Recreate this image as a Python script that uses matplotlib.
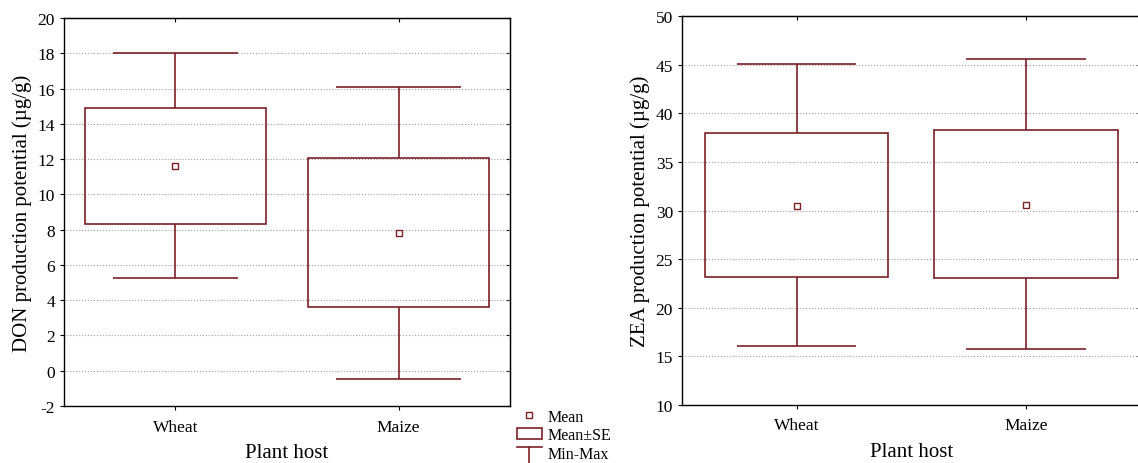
import matplotlib
matplotlib.use("Agg")
import matplotlib.pyplot as plt
import numpy as np
from matplotlib.lines import Line2D
from matplotlib.patches import Rectangle
from matplotlib.legend_handler import HandlerBase

plt.rcParams['font.family'] = ['Liberation Serif', 'DejaVu Serif']
plt.rcParams['axes.unicode_minus'] = False

hosts = ['Wheat', 'Maize']

# DON (ug/g)
don_min = [5.25, -0.45]
don_lo = [8.35, 3.6]
don_mean = [11.6, 7.8]
don_hi = [14.9, 12.05]
don_max = [18.0, 16.1]

# ZEA (ug/g)
zea_min = [16.05, 15.75]
zea_lo = [23.2, 23.1]
zea_mean = [30.5, 30.6]
zea_hi = [38.0, 38.3]
zea_max = [45.05, 45.6]

col = '#7b1f25'


class WhiskerHandler(HandlerBase):
    # T-shaped icon for the Min-Max entry
    def create_artists(self, legend, orig_handle, xd, yd, width, height, fontsize, trans):
        cx = xd + width / 2
        top = yd + height * 0.9
        cap = Line2D([xd, xd + width], [top, top], color=col, lw=1.2, transform=trans)
        stem = Line2D([cx, cx], [top, yd - height * 0.8], color=col, lw=1.2, transform=trans)
        return [cap, stem]


def draw_panel(ax, mn, lo, mean, hi, mx, ylim, yticks, ylabel, box_w, cap_w):
    x = np.arange(len(hosts))
    lo = np.array(lo); hi = np.array(hi)
    ax.bar(x, hi - lo, bottom=lo, width=box_w, fill=False, edgecolor=col, linewidth=1.2, zorder=3)
    ax.vlines(x, mn, lo, color=col, lw=1.2, zorder=3)
    ax.vlines(x, hi, mx, color=col, lw=1.2, zorder=3)
    ax.hlines(mn, x - cap_w / 2, x + cap_w / 2, color=col, lw=1.2, zorder=3)
    ax.hlines(mx, x - cap_w / 2, x + cap_w / 2, color=col, lw=1.2, zorder=3)
    ax.plot(x, mean, 's', mfc='white', mec=col, ms=4, mew=1.0, zorder=4)
    ax.set_xlim(-0.5, 1.5)
    ax.set_ylim(*ylim)
    ax.set_yticks(yticks)
    ax.set_xticks(x)
    ax.set_xticklabels(hosts)
    ax.yaxis.grid(True, linestyle=':', color='#a0a0a0', lw=0.8)
    ax.set_axisbelow(True)
    ax.tick_params(axis='both', labelsize=12.5, length=3)
    ax.tick_params(axis='x', pad=6)
    # inward ticks on top and right side
    top = ax.secondary_xaxis('top')
    top.set_xticks(x)
    top.tick_params(direction='in', length=3, labeltop=False)
    right = ax.secondary_yaxis('right')
    right.set_yticks(yticks)
    right.tick_params(direction='in', length=3, labelright=False)
    ax.set_xlabel('Plant host', fontsize=15, labelpad=6)
    ax.set_ylabel(ylabel, fontsize=15, labelpad=4)
    for s in ax.spines.values():
        s.set_linewidth(1.0)


fig = plt.figure(figsize=(11.38, 4.64), dpi=100)
ax1 = fig.add_axes([0.0562, 0.1228, 0.392, 0.836])
ax2 = fig.add_axes([0.5993, 0.125, 0.403, 0.838])

draw_panel(ax1, don_min, don_lo, don_mean, don_hi, don_max, (-2, 20), range(-2, 21, 2),
           'DON production potential (\u00b5g/g)', 0.81, 0.56)
draw_panel(ax2, zea_min, zea_lo, zea_mean, zea_hi, zea_max, (10, 50), range(10, 51, 5),
           'ZEA production potential (\u00b5g/g)', 0.8, 0.52)

h_mean = Line2D([], [], marker='s', ls='none', mfc='white', mec=col, ms=4)
h_box = Rectangle((0, 0), 1, 1, fill=False, edgecolor=col, lw=1.2)
h_mm = object()
fig.legend([h_mean, h_box, h_mm], ['Mean', 'Mean\u00b1SE', 'Min-Max'],
           handler_map={object: WhiskerHandler()},
           loc='upper left', bbox_to_anchor=(0.4543, 0.117), frameon=False,
           fontsize=11.5, handlelength=1.55, handletextpad=0.38, labelspacing=0.15,
           borderaxespad=0, borderpad=0)

fig.savefig('out.png', dpi=100)
